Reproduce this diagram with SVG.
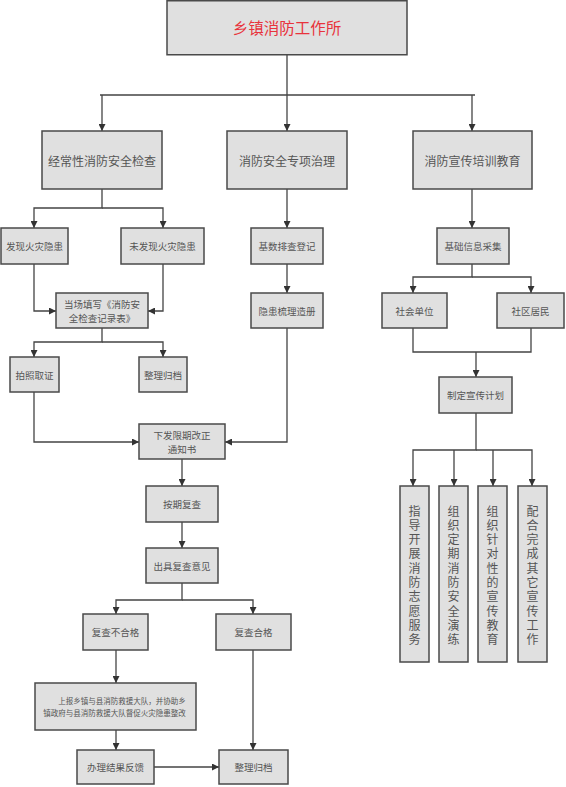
<svg xmlns="http://www.w3.org/2000/svg" width="566" height="787" viewBox="0 0 566 787">
<style>
.b{fill:#e0e0e0;stroke:#4a4a4a;stroke-width:1.5}
.t{font-family:"Noto Sans CJK SC","Noto Sans",sans-serif;fill:#555;text-anchor:middle;dominant-baseline:central}
.v{font-family:"Liberation Sans","Noto Sans CJK SC",sans-serif;fill:#555;text-anchor:middle;font-size:12px}
.c{fill:none;stroke:#444;stroke-width:1.3}
</style>
<defs>
<marker id="a" viewBox="0 0 10 10" refX="10" refY="5" markerWidth="7" markerHeight="7" markerUnits="userSpaceOnUse" orient="auto"><path d="M0,0L10,5L0,10z" fill="#333"/></marker>
</defs>
<rect width="566" height="787" fill="#fff"/>
<g id="connectors" class="c">
<path d="M287,55V95M100,95H475"/>
<path d="M102,95V131" marker-end="url(#a)"/>
<path d="M287,95V131" marker-end="url(#a)"/>
<path d="M472,95V131" marker-end="url(#a)"/>
<path d="M102,189V208H34V228" marker-end="url(#a)"/>
<path d="M102,208H163V228" marker-end="url(#a)"/>
<path d="M287,189V228" marker-end="url(#a)"/>
<path d="M472,189V228" marker-end="url(#a)"/>
<path d="M34,264V311H56" marker-end="url(#a)"/>
<path d="M163,264V311H148" marker-end="url(#a)"/>
<path d="M287,264V293" marker-end="url(#a)"/>
<path d="M102,328V342H34V357" marker-end="url(#a)"/>
<path d="M102,342H163V357" marker-end="url(#a)"/>
<path d="M34,392V442H139" marker-end="url(#a)"/>
<path d="M287,328V442H225" marker-end="url(#a)"/>
<path d="M182,459V486" marker-end="url(#a)"/>
<path d="M182,522V548" marker-end="url(#a)"/>
<path d="M182,583V600H116V614" marker-end="url(#a)"/>
<path d="M182,600H253V614" marker-end="url(#a)"/>
<path d="M116,650V683" marker-end="url(#a)"/>
<path d="M116,730V750" marker-end="url(#a)"/>
<path d="M253,650V750" marker-end="url(#a)"/>
<path d="M154,767H219" marker-end="url(#a)"/>
<path d="M472,264V277H413V293" marker-end="url(#a)"/>
<path d="M472,277H531V293" marker-end="url(#a)"/>
<path d="M413,328V352H531V328"/>
<path d="M476,352V377" marker-end="url(#a)"/>
<path d="M476,413V450H413V486" marker-end="url(#a)"/>
<path d="M454,450V486" marker-end="url(#a)"/>
<path d="M493,450V486" marker-end="url(#a)"/>
<path d="M476,450H532V486" marker-end="url(#a)"/>
</g>
<g id="n0"><rect class="b" x="167" y="0.75" width="240" height="54"/><text class="t" x="287" y="27" font-size="15.5" style="fill:#e8333c">乡镇消防工作所</text></g>
<g id="n1"><rect class="b" x="42" y="131" width="120" height="58"/><text class="t" x="102" y="160" font-size="12">经常性消防安全检查</text></g>
<g id="n2"><rect class="b" x="227" y="131" width="120" height="58"/><text class="t" x="287" y="160" font-size="12">消防安全专项治理</text></g>
<g id="n3"><rect class="b" x="413" y="131" width="119" height="58"/><text class="t" x="472.5" y="160" font-size="12">消防宣传培训教育</text></g>
<g id="n4"><rect class="b" x="1" y="228" width="67" height="36"/><text class="t" x="34.5" y="246" font-size="9.5">发现火灾隐患</text></g>
<g id="n5"><rect class="b" x="121" y="228" width="83" height="36"/><text class="t" x="162.5" y="246" font-size="9.5">未发现火灾隐患</text></g>
<g id="n6"><rect class="b" x="251" y="228" width="72" height="36"/><text class="t" x="287" y="246" font-size="9.5">基数排查登记</text></g>
<g id="n7"><rect class="b" x="437" y="228" width="72" height="36"/><text class="t" x="473" y="246" font-size="9.5">基础信息采集</text></g>
<g id="n8"><rect class="b" x="56" y="293" width="92" height="35"/><text class="t" x="102" y="304" font-size="9.5">当场填写《消防安</text><text class="t" x="102" y="318" font-size="9.5">全检查记录表》</text></g>
<g id="n9"><rect class="b" x="251" y="293" width="72" height="35"/><text class="t" x="287" y="310.5" font-size="9.5">隐患梳理造册</text></g>
<g id="n10"><rect class="b" x="10" y="357" width="49" height="35"/><text class="t" x="34.5" y="374.5" font-size="9.5">拍照取证</text></g>
<g id="n11"><rect class="b" x="139" y="357" width="48" height="35"/><text class="t" x="163" y="374.5" font-size="9.5">整理归档</text></g>
<g id="n12"><rect class="b" x="139" y="424" width="86" height="35"/><text class="t" x="182" y="435" font-size="9.5">下发限期改正</text><text class="t" x="182" y="449" font-size="9.5">通知书</text></g>
<g id="n13"><rect class="b" x="146" y="486" width="72" height="36"/><text class="t" x="182" y="504" font-size="9.5">按期复查</text></g>
<g id="n14"><rect class="b" x="146" y="548" width="72" height="35"/><text class="t" x="182" y="565.5" font-size="9.5">出具复查意见</text></g>
<g id="n15"><rect class="b" x="83" y="614" width="65" height="36"/><text class="t" x="115.5" y="632" font-size="9.5">复查不合格</text></g>
<g id="n16"><rect class="b" x="216" y="614" width="75" height="36"/><text class="t" x="253.5" y="632" font-size="9.5">复查合格</text></g>
<g id="n17"><rect class="b" x="35" y="683" width="161" height="47"/><text class="t" x="122" y="700" font-size="7.5">上报乡镇与县消防救援大队，并协助乡</text><text class="t" x="114.5" y="712" font-size="7.5">镇政府与县消防救援大队督促火灾隐患整改</text></g>
<g id="n18"><rect class="b" x="77" y="750" width="77" height="34"/><text class="t" x="115.5" y="767" font-size="9.5">办理结果反馈</text></g>
<g id="n19"><rect class="b" x="219" y="750" width="69" height="34"/><text class="t" x="253.5" y="767" font-size="9.5">整理归档</text></g>
<g id="n20"><rect class="b" x="382" y="293" width="65" height="35"/><text class="t" x="414.5" y="310.5" font-size="9.5">社会单位</text></g>
<g id="n21"><rect class="b" x="497" y="293" width="67" height="35"/><text class="t" x="530.5" y="310.5" font-size="9.5">社区居民</text></g>
<g id="n22"><rect class="b" x="439" y="377" width="73" height="36"/><text class="t" x="475.5" y="395" font-size="9.5">制定宣传计划</text></g>
<g id="n23"><rect class="b" x="400" y="486" width="29" height="176"/><text class="v"><tspan x="414.5" y="515.5">指</tspan><tspan x="414.5" y="529.8">导</tspan><tspan x="414.5" y="544.1">开</tspan><tspan x="414.5" y="558.4">展</tspan><tspan x="414.5" y="572.7">消</tspan><tspan x="414.5" y="587">防</tspan><tspan x="414.5" y="601.3">志</tspan><tspan x="414.5" y="615.6">愿</tspan><tspan x="414.5" y="629.9">服</tspan><tspan x="414.5" y="644.2">务</tspan></text></g>
<g id="n24"><rect class="b" x="439" y="486" width="29" height="176"/><text class="v"><tspan x="453.5" y="515.5">组</tspan><tspan x="453.5" y="529.8">织</tspan><tspan x="453.5" y="544.1">定</tspan><tspan x="453.5" y="558.4">期</tspan><tspan x="453.5" y="572.7">消</tspan><tspan x="453.5" y="587">防</tspan><tspan x="453.5" y="601.3">安</tspan><tspan x="453.5" y="615.6">全</tspan><tspan x="453.5" y="629.9">演</tspan><tspan x="453.5" y="644.2">练</tspan></text></g>
<g id="n25"><rect class="b" x="478" y="486" width="29" height="176"/><text class="v"><tspan x="492.5" y="515.5">组</tspan><tspan x="492.5" y="529.8">织</tspan><tspan x="492.5" y="544.1">针</tspan><tspan x="492.5" y="558.4">对</tspan><tspan x="492.5" y="572.7">性</tspan><tspan x="492.5" y="587">的</tspan><tspan x="492.5" y="601.3">宣</tspan><tspan x="492.5" y="615.6">传</tspan><tspan x="492.5" y="629.9">教</tspan><tspan x="492.5" y="644.2">育</tspan></text></g>
<g id="n26"><rect class="b" x="518" y="486" width="29" height="176"/><text class="v"><tspan x="532.5" y="515.5">配</tspan><tspan x="532.5" y="529.8">合</tspan><tspan x="532.5" y="544.1">完</tspan><tspan x="532.5" y="558.4">成</tspan><tspan x="532.5" y="572.7">其</tspan><tspan x="532.5" y="587">它</tspan><tspan x="532.5" y="601.3">宣</tspan><tspan x="532.5" y="615.6">传</tspan><tspan x="532.5" y="629.9">工</tspan><tspan x="532.5" y="644.2">作</tspan></text></g>
</svg>
